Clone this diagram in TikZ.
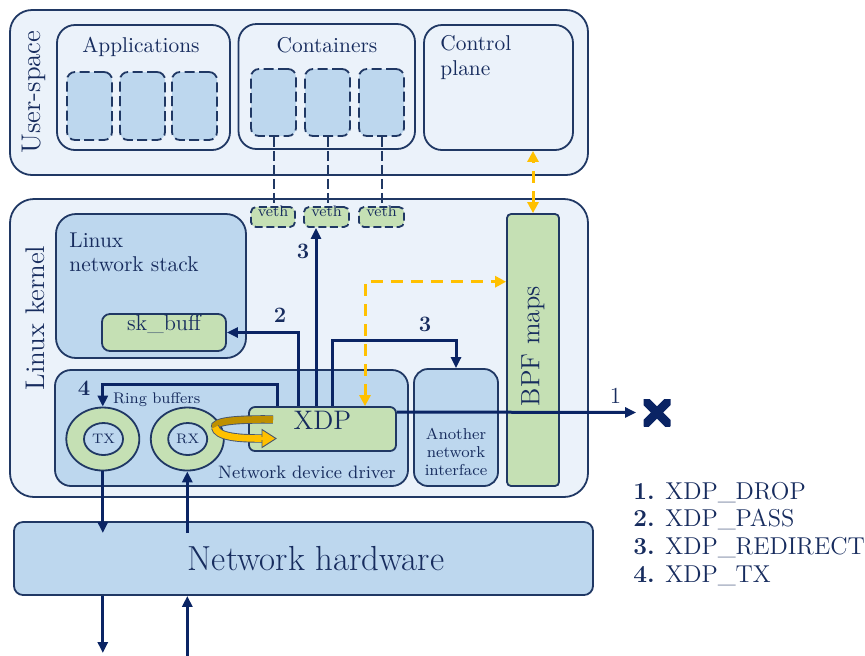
\documentclass[tikz,border=0pt]{standalone}
\usepackage{fontspec}
\usetikzlibrary{arrows.meta,fit,shapes.geometric}
\definecolor{navy}{HTML}{203864}
\definecolor{inkblue}{HTML}{172C5E}
\definecolor{arrowc}{HTML}{0A2464}
\definecolor{paleblue}{HTML}{EBF2FA}
\definecolor{midblue}{HTML}{BDD7EE}
\definecolor{leafgreen}{HTML}{C5E0B4}
\definecolor{gold}{HTML}{FFC000}
\definecolor{darkgold}{HTML}{BF9000}
\newcommand\fs[2]{\fontsize{#1}{#2}\selectfont}
\begin{document}
\begin{tikzpicture}[x=0.5pt,y=-0.5pt,
  every node/.style={text=inkblue},
  panel/.style={draw=navy, line width=0.9pt, fill=paleblue, inner sep=0pt},
  bluebox/.style={draw=navy, line width=0.9pt, fill=midblue, inner sep=0pt},
  greenbox/.style={draw=navy, line width=0.9pt, fill=leafgreen, inner sep=0pt},
  slot/.style={draw=navy, line width=0.9pt, fill=midblue, inner sep=0pt,
    dash pattern=on 5pt off 2.2pt, rounded corners=4pt},
  vethbox/.style={draw=navy, line width=0.9pt, fill=leafgreen, inner sep=0pt,
    dash pattern=on 4pt off 1.8pt, rounded corners=2.5pt, font=\fs{7.6}{9}},
  link/.style={draw=navy, line width=1pt, dash pattern=on 5pt off 2pt},
  flow/.style={draw=arrowc, line width=1.5pt, -{Triangle[length=5.5pt,width=5pt]}},
  ydash/.style={draw=gold, line width=1.5pt, dash pattern=on 6pt off 4pt},
  ytips/.style={{Triangle[length=5.5pt,width=5.5pt]}-{Triangle[length=5.5pt,width=5.5pt]}},
  outring/.style={ellipse, draw=navy, line width=0.9pt, fill=leafgreen,
    minimum width=36.5pt, minimum height=31.5pt, inner sep=0pt},
  inring/.style={ellipse, draw=navy, line width=0.9pt, fill=midblue,
    minimum width=19.5pt, minimum height=16pt, inner sep=0pt, font=\fs{6.9}{8}},
  num/.style={font=\fs{11}{13}\bfseries, inner sep=0pt}
]
\useasboundingbox (0,0) rectangle (865,655);

% user-space
\node[panel, rounded corners=11pt, fit={(10,10) (588,175)}] (user) {};
\node[rotate=90, font=\fs{13.5}{16}, inner sep=0pt] (userlbl) at (33.5,92) {User-space};
\node[panel, rounded corners=9pt, fit={(57,25) (230,150)}] (apps) {};
\node[font=\fs{10.7}{12.5}, anchor=base, inner sep=0pt] (appslbl) at (141,52) {Applications};
\node[slot, fit={(67,72) (112,140)}] (a1) {};
\node[slot, fit={(120,72) (165,140)}] (a2) {};
\node[slot, fit={(172,72) (217,140)}] (a3) {};
\node[panel, rounded corners=9pt, fit={(238.5,24) (415,149)}] (cont) {};
\node[font=\fs{10.7}{12.5}, anchor=base, inner sep=0pt] (contlbl) at (327,52) {Containers};
\node[slot, fit={(251,69) (296,136)}] (c1) {};
\node[slot, fit={(305,69) (350,136)}] (c2) {};
\node[slot, fit={(359,69) (404,136)}] (c3) {};
\node[panel, rounded corners=9pt, fit={(424,25) (573,150)}] (control) {};
\node[font=\fs{10.7}{12.5}, anchor=north west, align=left, inner sep=0pt] (ctrllbl) at (440,35.2) {Control\\plane};

% kernel
\node[panel, rounded corners=12pt, fit={(10,199) (588,497)}] (kernel) {};
\node[rotate=90, font=\fs{13.5}{16}, inner sep=0pt] (kernlbl) at (35.5,318) {Linux kernel};
\node[bluebox, rounded corners=10pt, fit={(56,214) (246,358)}] (stack) {};
\node[font=\fs{10.7}{12.2}, anchor=north west, align=left, inner sep=0pt] (stacklbl) at (69,232.2) {Linux\\network stack};
\node[greenbox, rounded corners=4pt, font=\fs{11.2}{13}, fit={(102,314) (226,351)}] (skbuff) {sk\_buff};
\node[bluebox, rounded corners=8pt, fit={(55,370) (408,486)}] (driver) {};
\node[font=\fs{9}{10}, anchor=base east, inner sep=0pt] (drvlbl) at (396,478) {Network device driver};
\node[font=\fs{7.7}{9}, anchor=base west, inner sep=0pt] (ringlbl) at (112.7,403) {Ring buffers};
\node[bluebox, rounded corners=7pt, fit={(414,369) (498,486)}] (other) {};
\node[font=\fs{7.9}{9.2}, anchor=north, align=center, inner sep=0pt] (otherlbl) at (456,427.3) {Another\\network\\interface};
\node[greenbox, rounded corners=2pt, fit={(507,214) (559,486)}] (bpf) {};
\node[rotate=90, font=\fs{13.2}{15}, inner sep=0pt] (bpflbl) at (533,346) {BPF maps};
\node[vethbox, fit={(251,207) (295,227)}] (veth1) {veth};
\node[vethbox, fit={(304,207) (349,227)}] (veth2) {veth};
\node[vethbox, fit={(359,207) (404,227)}] (veth3) {veth};

% ring buffers and XDP
\node[outring] (txring) at (102.8,439) {};
\node[inring] (txcore) at (103.5,439) {TX};
\node[outring] (rxring) at (187.3,439) {};
\node[inring] (rxcore) at (187.7,439) {RX};
\node[greenbox, rounded corners=3pt, font=\fs{13.4}{15}, fit={(249,407) (396,451)}] (xdp) {XDP};

% hardware
\node[bluebox, rounded corners=4.5pt, fit={(14,522) (593,595)}] (hw) {};
\node[font=\fs{17.4}{20}, anchor=base, inner sep=0pt] (hwlbl) at (316,570) {Network hardware};

% veth links
\draw[link] (c1.south) -- (c1.south |- veth1.north);
\draw[link] (c2.south) -- (c2.south |- veth2.north);
\draw[link] (c3.south) -- (c3.south |- veth3.north);

% XDP actions
\coordinate (xp4) at (xdp.north -| 277,0);
\coordinate (xp2) at (xdp.north -| 298,0);
\coordinate (xp3u) at (xdp.north -| 316,0);
\coordinate (xp3r) at (xdp.north -| 332,0);
\coordinate (xpy) at (xdp.north -| 365,0);
\coordinate (xp1) at (xdp.east |- 0,412);
\node[minimum size=13.5pt, inner sep=0pt,
  path picture={\draw[arrowc, line width=4.3pt]
    (path picture bounding box.north west) -- (path picture bounding box.south east)
    (path picture bounding box.south west) -- (path picture bounding box.north east);}]
  (drop) at (657,412.5) {};

\draw[ydash, ytips] (xpy) |- (bpf.west |- 0,281.7);
\draw[ydash, ytips] (bpf.north) -- (bpf.north |- control.south);
\draw[flow] (xp2) |- (skbuff.east);
\draw[flow] (xp3u) -- (xp3u |- veth2.south);
\draw[flow] (xp3r) -- ++(0,-66) -| (other.north);
\draw[flow] (xp4) -- ++(0,-22) -| (txring.north);
\draw[flow, shorten >=3.5pt] (xp1) -- (drop.west);

\node[num] (n2) at (280,315) {2};
\node[num] (n3u) at (303,251) {3};
\node[num] (n3r) at (425,324.5) {3};
\node[num] (n4) at (84,388) {4};
\node[font=\fs{11.5}{13}, inner sep=0pt] (n1) at (615.5,395.5) {1};

% wire to and from the hardware
\coordinate (txin) at (txring.south |- 0,533);
\coordinate (rxin) at (rxring.south |- 0,533);
\coordinate (txout) at (txring.south |- 0,653);
\coordinate (rxout) at (rxring.south |- 0,656);
\draw[flow] (txring.south) -- (txin);
\draw[flow] (rxin) -- (rxring.south);
\draw[flow] (txring.south |- hw.south) -- (txout);
\draw[flow] (rxout) -- (rxring.south |- hw.south);

% receive hook ribbon
\draw[line width=0.45pt, draw=navy!60!gray, double=darkgold, double distance=3.3pt]
  (273,419.5) .. controls (236,419) and (213,421) .. (215,428);
\draw[line width=0.45pt, draw=navy!60!gray, double=gold, double distance=3.3pt]
  (215,427) .. controls (217,437) and (238,438.5) .. (262.5,438.5);
\fill[gold, draw=navy!60!gray, line width=0.45pt]
  (262,429.5) -- (276,438.5) -- (262,447.5) -- cycle;
\fill[gold] (260,436.9) rectangle (263,440.1);

% legend
\node[font=\fs{12.2}{13.9}, anchor=north west, align=left, inner sep=0pt] (legend) at (633,481.6)
  {\textbf{1.} XDP\_DROP\\\textbf{2.} XDP\_PASS\\\textbf{3.} XDP\_REDIRECT\\\textbf{4.} XDP\_TX};
\end{tikzpicture}
\end{document}
